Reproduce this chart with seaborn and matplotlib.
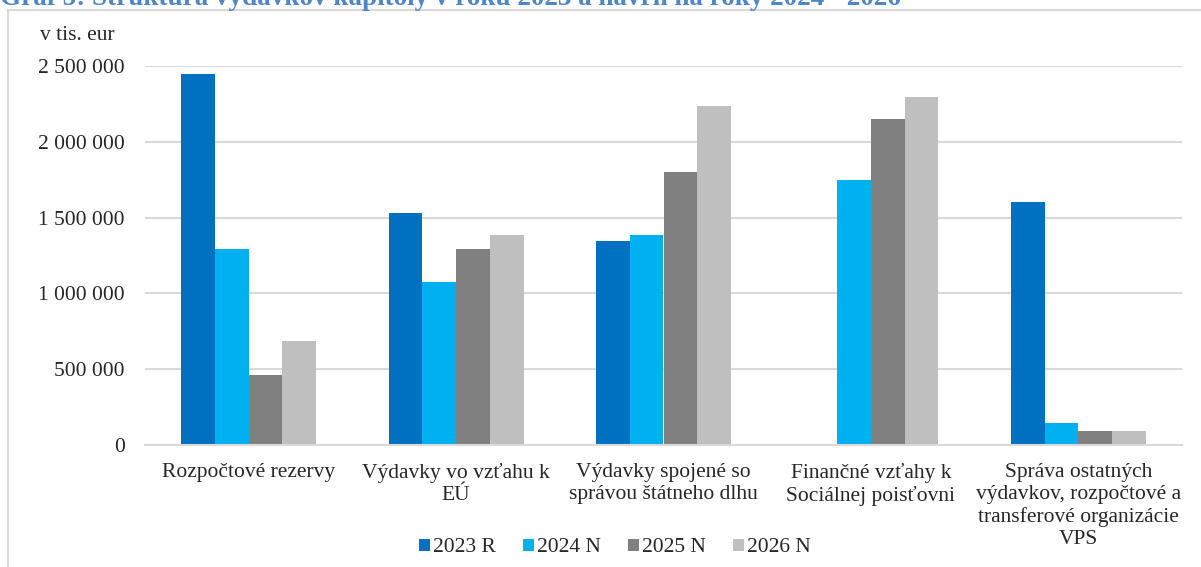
import matplotlib
matplotlib.use('Agg')
import matplotlib.pyplot as plt
import matplotlib.patches as patches
from matplotlib.ticker import FuncFormatter
import seaborn as sns
import pandas as pd

# data (v tis. eur)
kategorie = [
    'Rozpočtové rezervy',
    'Výdavky vo vzťahu k\nEÚ',
    'Výdavky spojené so\nsprávou štátneho dlhu',
    'Finančné vzťahy k\nSociálnej poisťovni',
    'Správa ostatných\nvýdavkov, rozpočtové a\ntransferové organizácie\nVPS',
]
roky = ['2023 R', '2024 N', '2025 N', '2026 N']
v2023 = [2447000, 1530000, 1346000, 0, 1601000]
v2024 = [1293000, 1075000, 1385000, 1748000, 143000]
v2025 = [462000, 1293000, 1801000, 2148000, 92000]
v2026 = [686000, 1385000, 2236000, 2298000, 92000]
farby = ['#0070C0', '#00B0F0', '#808080', '#BFBFBF']

rows = []
for rok, vals in zip(roky, [v2023, v2024, v2025, v2026]):
    for kat, v in zip(kategorie, vals):
        rows.append({'kategoria': kat, 'rok': rok, 'hodnota': v})
df = pd.DataFrame(rows)

sns.set_style('white')
plt.rcParams['font.family'] = ['Liberation Serif', 'DejaVu Serif']
fs = 15.5

fig = plt.figure(figsize=(12.01, 5.67), dpi=100)
ax = fig.add_axes([145 / 1201, 1 - 445 / 567, (1182 - 145) / 1201, (445 - 66) / 567])

sns.barplot(data=df, x='kategoria', y='hodnota', hue='rok', palette=farby,
            width=0.65, saturation=1, ax=ax, edgecolor='none', linewidth=0)

ax.set_ylim(0, 2500000)
ax.set_xlim(-0.5, 4.5)
ax.set_yticks([0, 500000, 1000000, 1500000, 2000000, 2500000])
ax.yaxis.set_major_formatter(FuncFormatter(lambda v, p: f'{int(v):,}'.replace(',', ' ')))
ax.grid(axis='y', color='#d9d9d9', linewidth=1.5)
ax.set_axisbelow(True)
for s in ['top', 'right', 'left']:
    ax.spines[s].set_visible(False)
ax.spines['bottom'].set_color('#d9d9d9')
ax.spines['bottom'].set_linewidth(1.5)
ax.tick_params(axis='y', length=0, pad=14.5, labelsize=fs)
ax.tick_params(axis='x', length=0, pad=13, labelsize=fs)
ax.set_xlabel('')
ax.set_ylabel('')

# legend at bottom
ax.legend(loc='center', bbox_to_anchor=(615 / 1201, 1 - 548 / 567), bbox_transform=fig.transFigure,
          ncol=4, frameon=False, fontsize=fs, handlelength=0.5, handleheight=0.5,
          handletextpad=0.15, columnspacing=1.25)

fig.text(40 / 1201, 1 - 35 / 567, 'v tis. eur', fontsize=fs, va='center', ha='left')

# title, cut off at the top like in the source
fig.text(0.0, 1 - 5 / 567, 'Graf 5: Štruktúra výdavkov kapitoly v roku 2023 a návrh na roky 2024 - 2026',
         fontsize=19.5, fontweight='bold', color='#4F86C6', va='baseline', ha='left')

# light border around the chart
fig.patches.append(patches.Rectangle((8 / 1201, -0.05), 1.2, 1 - 10 / 567 + 0.05,
                                     transform=fig.transFigure, fill=False,
                                     edgecolor='#d9d9d9', linewidth=1.5))

fig.savefig('out.png', dpi=100)
